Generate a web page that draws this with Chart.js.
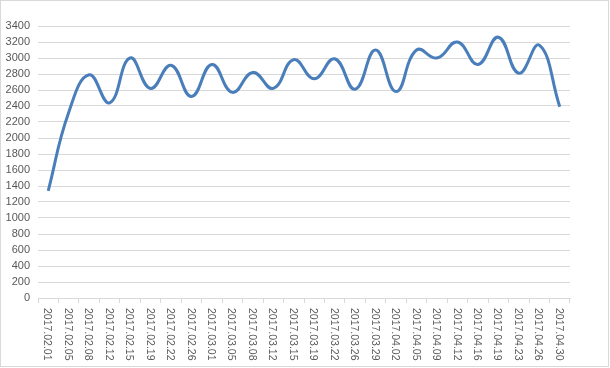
<!DOCTYPE html>
<html>
<head>
<meta charset="utf-8">
<script src="https://cdn.jsdelivr.net/npm/chart.js@4/dist/chart.umd.min.js"></script>
<style>
html,body{margin:0;padding:0;background:#fff;}
#wrap{width:610px;height:368px;position:relative;}
</style>
</head>
<body>
<div id="wrap"><canvas id="c" width="610" height="368"></canvas></div>
<script>
const categories = ["2017.02.01","2017.02.05","2017.02.08","2017.02.12","2017.02.15","2017.02.19","2017.02.22","2017.02.26","2017.03.01","2017.03.05","2017.03.08","2017.03.12","2017.03.15","2017.03.19","2017.03.22","2017.03.26","2017.03.29","2017.04.02","2017.04.05","2017.04.09","2017.04.12","2017.04.16","2017.04.19","2017.04.23","2017.04.26","2017.04.30"];
const seriesValues = [1340,2320,2790,2440,3000,2620,2910,2520,2920,2570,2820,2620,2980,2740,2990,2610,3100,2580,3100,3000,3200,2920,3260,2810,3160,2390];
const yTicks = {min:0, max:3400, step:200};

const labelFont = '10.5px "Liberation Sans", Arial, sans-serif';
const textColor = '#595959';
const gridColor = '#D9D9D9';

const frameAndLabels = {
  id:'frameAndLabels',
  beforeDraw(chart){
    const ctx = chart.ctx;
    ctx.save();
    ctx.fillStyle = '#fff';
    ctx.fillRect(0,0,chart.width,chart.height);
    ctx.strokeStyle = gridColor;
    ctx.lineWidth = 1;
    ctx.strokeRect(0.5,0.5,chart.width-2,chart.height-2);
    ctx.restore();
  },
  afterDraw(chart){
    const ctx = chart.ctx;
    const xs = chart.scales.x;
    ctx.save();
    ctx.font = labelFont;
    ctx.fillStyle = textColor;
    ctx.textAlign = 'left';
    ctx.textBaseline = 'middle';
    const y0 = xs.top + 10;
    chart.data.labels.forEach((lab,i)=>{
      const x = xs.getPixelForTick(i);
      ctx.save();
      ctx.translate(x - 1, y0);
      ctx.rotate(Math.PI/2);
      ctx.fillText(lab,0,0);
      ctx.restore();
    });
    ctx.restore();
  }
};

new Chart(document.getElementById('c'),{
  type:'line',
  data:{
    labels:categories,
    datasets:[{
      data:seriesValues,
      borderColor:'#4A7EBB',
      borderWidth:3,
      pointRadius:0,
      tension:0.45,
      fill:false
    }]
  },
  options:{
    responsive:false,
    animation:false,
    devicePixelRatio:1,
    layout:{padding:{left:0,right:40,top:26,bottom:0}},
    plugins:{legend:{display:false},tooltip:{enabled:false}},
    scales:{
      x:{
        type:'category',
        offset:true,
        afterFit(s){ s.height = 70; },
        grid:{display:true,drawOnChartArea:false,drawTicks:true,tickLength:5,color:gridColor,offset:true},
        border:{display:true,color:gridColor},
        ticks:{display:false}
      },
      y:{
        min:yTicks.min,max:yTicks.max,
        afterFit(s){ s.width = 38; },
        ticks:{stepSize:yTicks.step,autoSkip:false,color:textColor,font:{family:'"Liberation Sans", Arial, sans-serif',size:11},padding:8,callback:(v)=>String(v)},
        grid:{color:gridColor,drawTicks:false},
        border:{display:false}
      }
    }
  },
  plugins:[frameAndLabels]
});
</script>
</body>
</html>
